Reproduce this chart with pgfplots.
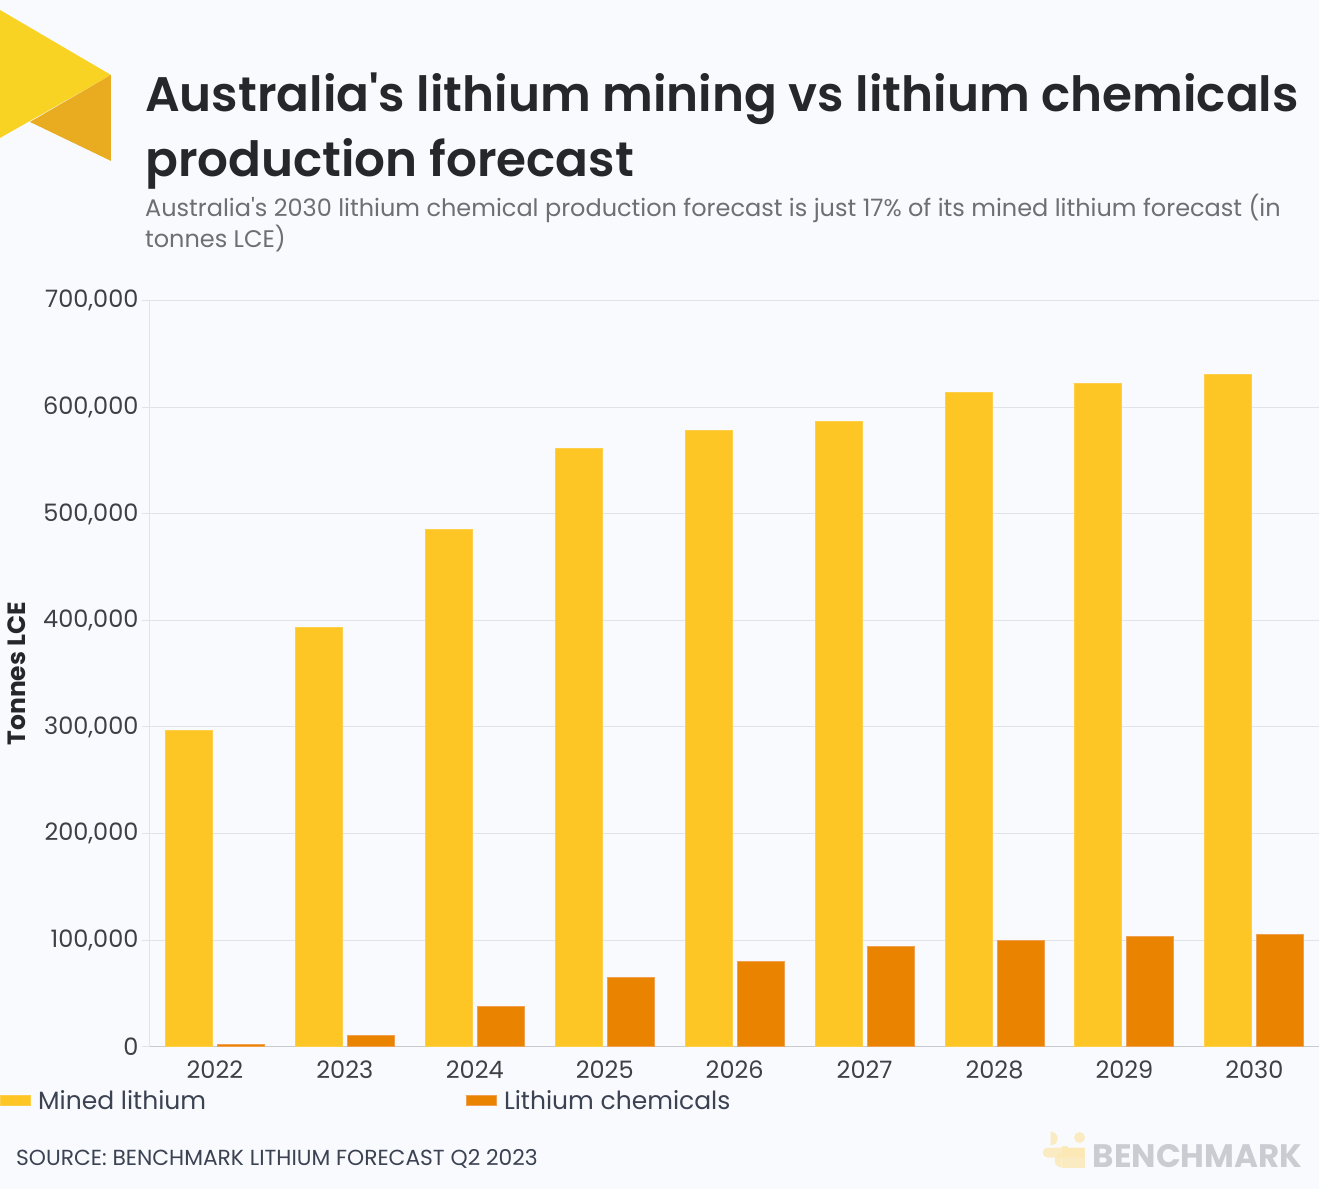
\documentclass[border=0pt]{standalone}
\usepackage{pgfplots}
\pgfplotsset{compat=1.18}
\usepackage{fontspec}
\setmainfont{Poppins}[Ligatures=TeXOff]
\newfontfamily\titlefont{Poppins SemiBold}[Ligatures=TeXOff]
\definecolor{bg}{HTML}{F9FAFE}
\definecolor{logoY}{HTML}{F8D323}
\definecolor{logoO}{HTML}{E9AB1F}
\definecolor{titlec}{HTML}{25272B}
\definecolor{subc}{HTML}{6E6E73}
\definecolor{tickc}{HTML}{3F4046}
\definecolor{legc}{HTML}{3B4252}
\definecolor{gridc}{HTML}{E2E3E8}
\definecolor{xaxc}{HTML}{C9CACF}
\definecolor{mined}{HTML}{FDC624}
\definecolor{minededge}{HTML}{FDCF4A}
\definecolor{chem}{HTML}{E98300}
\definecolor{chemedge}{HTML}{EFA050}
\definecolor{bmgray}{HTML}{CBCCD1}
\definecolor{bmy}{HTML}{FCE7B0}
\pgfplotstableread{
x mined chem
0 297000 2000
1 393000 10000
2 485000 38000
3 561000 65000
4 578000 80000
5 587000 94000
6 614000 100000
7 622000 103000
8 631000 105000
}\datatable
\begin{document}
\begin{tikzpicture}
\fill[bg] (0pt,0pt) rectangle (1320pt,1190pt);
% logo
\fill[logoY] (0pt,1180pt) -- (111pt,1115pt) -- (0pt,1052pt) -- cycle;
\fill[logoO] (30pt,1068pt) -- (111pt,1115pt) -- (111pt,1029pt) -- cycle;
% title
\node[anchor=base west, inner sep=0pt, text=titlec, font=\fontsize{48.5}{55}\titlefont] at (145pt,1078pt) {Australia's lithium mining vs lithium chemicals};
\node[anchor=base west, inner sep=0pt, text=titlec, font=\fontsize{48.5}{55}\titlefont] at (145pt,1013pt) {production forecast};
% subtitle
\node[anchor=base west, inner sep=0pt, text=subc, font=\fontsize{24}{30}\selectfont] at (145pt,973pt) {Australia's 2030 lithium chemical production forecast is just 17\% of its mined lithium forecast (in};
\node[anchor=base west, inner sep=0pt, text=subc, font=\fontsize{24}{30}\selectfont] at (145pt,942pt) {tonnes LCE)};
% source
\node[anchor=base west, inner sep=0pt, text=legc, font=\fontsize{21.8}{22}\selectfont] at (16pt,24pt) {SOURCE: BENCHMARK LITHIUM FORECAST Q2 2023};
% benchmark logo
\node[anchor=base east, inner sep=0pt, text=bmgray, font=\fontsize{32.5}{33}\selectfont\bfseries] at (1303pt,22pt) {BENCHMARK};
\begin{scope}[opacity=0.75]
\fill[bmy] (1051pt,58pt) arc (90:-90:7pt) -- cycle;
\fill[bmy] (1048pt,42pt) arc (90:270:5pt) -- (1085pt,32pt) -- (1085pt,42pt) -- cycle;
\fill[bmy] (1062pt,36pt) arc (90:270:7pt) -- cycle;
\fill[bmy] (1062pt,22pt) rectangle (1068pt,44pt);
\fill[bmy] (1068pt,22pt) rectangle (1085pt,42pt);
\fill[bmy] (1080pt,52pt) circle (5.5pt);
\end{scope}
\begin{axis}[
  at={(150pt,143pt)}, anchor=south west, scale only axis,
  width=1170pt, height=746pt,
  xmin=-0.5, xmax=8.5, ymin=0, ymax=700000,
  ybar, bar width=47pt,
  axis x line=bottom, axis y line=left,
  axis line style={-},
  x axis line style={draw=xaxc, line width=1.3pt},
  y axis line style={draw=gridc, line width=1pt},
  xtick={0,...,8}, xticklabels={2022,2023,2024,2025,2026,2027,2028,2029,2030},
  xtick style={draw=none},
  xticklabel style={yshift=-3pt},
  ytick={0,100000,200000,300000,400000,500000,600000,700000},
  ytick style={draw=gridc, line width=1pt},
  tick align=outside, major tick length=8pt,
  ymajorgrids, grid style={draw=gridc, line width=1pt},
  scaled y ticks=false,
  yticklabel style={/pgf/number format/.cd, fixed, 1000 sep={,}, assume math mode=true},
  ticklabel style={font=\fontsize{24}{24}\selectfont, text=tickc},
  ylabel={Tonnes LCE},
  ylabel style={at={(axis description cs:-0.1137,0.5)}, anchor=center, font=\fontsize{25}{25}\selectfont\bfseries, text=titlec},
  legend style={at={(axis description cs:-0.1282,-0.0724)}, anchor=west, draw=none, fill=none,
    legend columns=2, font=\fontsize{25}{25}\selectfont, text=legc, inner sep=0pt,
    /tikz/every even column/.append style={column sep=258pt}},
  legend image code/.code={\fill[#1] (0pt,-5pt) rectangle (30pt,5pt); \path (35pt,0pt);},
]
\addplot[fill=mined, draw=minededge, line width=1pt, bar shift=-26pt] table[x=x, y=mined] {\datatable};
\addlegendentry{Mined lithium}
\addplot[fill=chem, draw=chemedge, line width=1pt, bar shift=26pt] table[x=x, y=chem] {\datatable};
\addlegendentry{Lithium chemicals}
\end{axis}
\end{tikzpicture}
\end{document}
